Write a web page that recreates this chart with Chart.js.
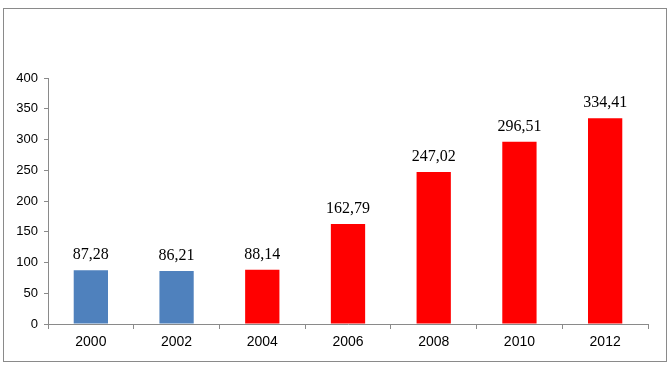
<!DOCTYPE html>
<html>
<head>
<meta charset="utf-8">
<script src="https://cdn.jsdelivr.net/npm/chart.js@4/dist/chart.umd.min.js"></script>
<style>
html,body{margin:0;padding:0;background:#fff;}
#wrap{position:relative;width:670px;height:369px;}
</style>
</head>
<body>
<div id="wrap"><canvas id="c" width="670" height="369"></canvas></div>
<script>
const categories = ['2000', '2002', '2004', '2006', '2008', '2010', '2012'];
const values = [87.28, 86.21, 88.14, 162.79, 247.02, 296.51, 334.41];
const barColors = ['#4F81BD', '#4F81BD', '#FF0000', '#FF0000', '#FF0000', '#FF0000', '#FF0000'];
const yTicks = [0, 50, 100, 150, 200, 250, 300, 350, 400];

const frame = {
  id: 'frame',
  beforeDraw(chart) {
    const ctx = chart.ctx;
    ctx.save();
    ctx.fillStyle = '#fff';
    ctx.fillRect(0, 0, chart.width, chart.height);
    ctx.strokeStyle = '#8a8a8a';
    ctx.lineWidth = 1;
    ctx.strokeRect(3.5, 8.5, 663, 353);
    ctx.restore();
  }
};

const labels = {
  id: 'valueLabels',
  afterDatasetsDraw(chart) {
    const ctx = chart.ctx;
    const meta = chart.getDatasetMeta(0);
    ctx.save();
    ctx.font = '16px "Liberation Serif", "Times New Roman", serif';
    ctx.fillStyle = '#000';
    ctx.textAlign = 'center';
    ctx.textBaseline = 'alphabetic';
    meta.data.forEach((bar, i) => {
      const v = chart.data.datasets[0].data[i];
      ctx.fillText(v.toFixed(2).replace('.', ','), bar.x, bar.y - 11);
    });
    ctx.restore();
  }
};

new Chart(document.getElementById('c'), {
  type: 'bar',
  data: {
    labels: categories,
    datasets: [{
      data: values,
      backgroundColor: barColors,
      borderWidth: 0,
      categoryPercentage: 1,
      barPercentage: 0.4
    }]
  },
  options: {
    responsive: false,
    animation: false,
    devicePixelRatio: 1,
    layout: { padding: { left: 10, right: 22, top: 78, bottom: 23 } },
    plugins: { legend: { display: false }, tooltip: { enabled: false } },
    scales: {
      x: {
        grid: { display: true, drawOnChartArea: false, drawTicks: true, tickLength: 5, color: '#8a8a8a', offset: true },
        border: { display: true, color: '#8a8a8a' },
        ticks: { color: '#000', font: { family: '"Liberation Sans", Arial, sans-serif', size: 14 }, padding: 5, maxRotation: 0 },
        afterFit(s) { s.height = 22; }
      },
      y: {
        min: 0, max: 400,
        afterBuildTicks(s) { s.ticks = yTicks.map(v => ({ value: v })); },
        grid: { display: true, drawOnChartArea: false, drawTicks: true, tickLength: 4, color: '#8a8a8a' },
        border: { display: true, color: '#8a8a8a' },
        ticks: { color: '#000', font: { family: '"Liberation Sans", Arial, sans-serif', size: 13 }, padding: 6 },
        afterFit(s) { s.width = 38; }
      }
    }
  },
  plugins: [frame, labels]
});
</script>
</body>
</html>
